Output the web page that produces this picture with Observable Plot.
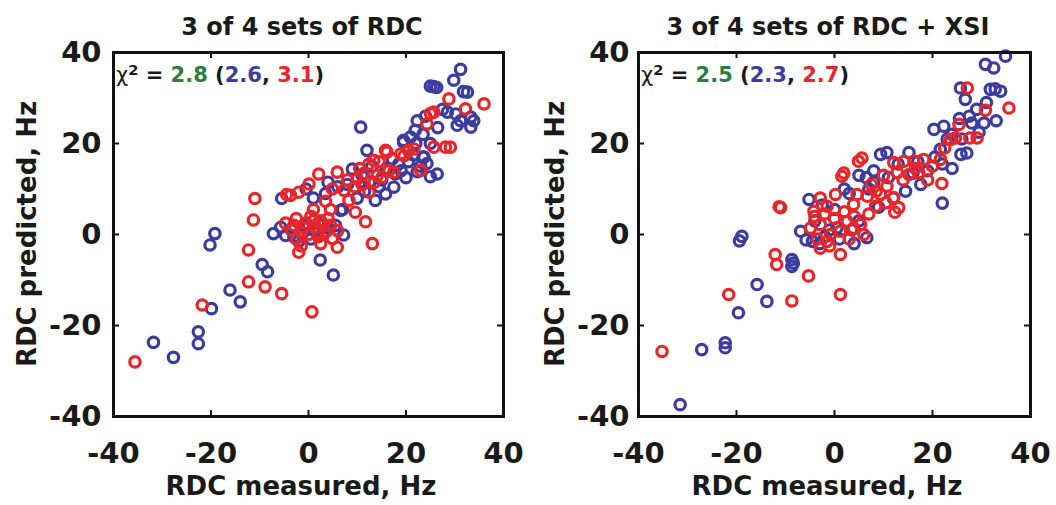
<!DOCTYPE html>
<html><head><meta charset="utf-8">
<script src="https://cdn.jsdelivr.net/npm/d3@7"></script>
<script src="https://cdn.jsdelivr.net/npm/@observablehq/plot@0.6"></script>
<style>
body{margin:0;background:#fff;}
#wrap{position:relative;width:1056px;height:505px;overflow:hidden;font-family:"DejaVu Sans",sans-serif;font-weight:bold;color:#1a1a1a;}
.p{position:absolute;top:0;}
.lbl{position:absolute;white-space:nowrap;line-height:1;}
.c{transform:translate(-50%,0);}
.rot{transform:translate(-50%,-50%) rotate(-90deg);}
sup{font-size:0.7em;vertical-align:0.45em;line-height:0;}
</style></head><body><div id="wrap"></div>
<script>
// ---- data ----
const axisTicks = [-40, -20, 0, 20, 40];
const innerTicks = [-20, 0, 20];
const titles = ["3 of 4 sets of RDC", "3 of 4 sets of RDC + XSI"];
const chiTotal = ["2.8", "2.5"];
const chiBlue = ["2.6", "2.3"];
const chiRed = ["3.1", "2.7"];
const xLabel = "RDC measured, Hz";
const yLabel = "RDC predicted, Hz";

const leftBlue = [
  [-31.8,-23.7],[-27.7,-27.0],[-22.6,-21.4],[-22.6,-24.0],[-19.9,-16.3],[-19.2,0.2],[-20.2,-2.3],
  [-16.1,-12.2],[-14.0,-14.8],[-9.5,-6.6],[-8.4,-8.2],[-7.2,0.2],[-5.5,7.9],[2.4,-5.6],[5.1,-8.9],
  [7.2,-0.1],[-5.7,1.6],[-4.7,-0.2],[-3.5,1.0],[6.6,5.3],[-1.0,2.0],[1.0,1.0],[2.0,2.5],
  [9.0,14.4],[12.0,18.5],[10.7,23.6],[17.2,16.6],[17.8,13.3],[17.5,10.4],[15.8,8.9],[13.7,7.5],
  [11.5,9.5],[10.0,8.0],[8.0,11.0],[4.0,11.5],[3.5,9.0],[6.0,10.5],[12.5,11.5],[14.5,10.5],
  [19.5,20.3],[20.5,16.0],[21.5,17.5],[22.3,13.8],[25.0,12.7],[23.5,17.0],[20.9,21.4],[21.9,22.9],
  [22.3,25.0],[23.5,22.0],[25.0,20.0],[26.5,23.5],[25.0,32.6],[25.7,32.5],[26.3,32.3],[29.8,33.9],
  [31.2,36.3],[31.8,31.4],[32.6,31.3],[28.5,26.9],[30.2,26.5],[33.3,25.8],[31.2,25.0],[33.9,25.0],
  [33.3,23.6],[30.5,24.0],[27.5,27.5],[24.0,26.0],[19.0,14.0],[16.0,14.5],[13.0,15.0],[11.0,13.0],
  [23.7,17.0],[26.4,13.3],[23.0,15.0],[20.0,12.5],[-2.0,-1.5],[0.5,-1.0],[3.0,0.5],[5.5,2.0],
  [-0.5,10.0],[1.0,8.0],[19.5,20.7],[24.3,15.6],[0.0,2.0],[4.0,1.5],[-3.0,-0.5],[7.0,5.5],
  [15.0,12.0],[18.5,15.5],[22.0,20.0]
];
const leftRed = [
  [-35.6,-28.0],[-21.8,-15.5],[-12.3,-10.4],[-8.9,-11.5],[-5.5,-13.0],[0.7,-17.0],[-12.3,-3.4],
  [-11.3,3.2],[-11.0,7.9],[-2.0,-3.9],[5.9,-2.8],[13.1,-2.0],[11.7,2.8],[-3.7,8.6],[-2.0,9.3],
  [-4.5,8.8],[0.1,11.1],[2.1,13.3],[5.9,13.7],[10.0,12.2],[12.4,15.5],[14.1,13.0],[15.1,12.6],
  [16.1,18.1],[18.9,17.7],[7.3,9.7],[8.3,7.5],[9.6,4.9],[3.5,7.3],[4.5,5.5],[-4.7,2.5],[-3.5,1.0],
  [-2.5,3.5],[-1.5,0.5],[-0.5,2.5],[0.5,4.0],[1.5,1.5],[2.5,3.0],[3.5,0.5],[4.5,2.0],[2.0,-0.5],
  [-2.5,-1.0],[4.9,-0.9],[1.0,5.5],[6.0,0.8],[12.4,9.3],[4.9,10.0],[11.3,13.4],[28.8,29.8],
  [36.0,28.7],[32.2,27.6],[25.7,26.9],[24.3,24.3],[28.1,19.2],[29.1,19.2],[25.7,19.2],[21.6,18.8],
  [15.8,18.5],[23.0,14.1],[13.4,16.3],[17.5,13.7],[19.6,17.3],[20.5,18.5],[25.0,26.6],[8.0,12.0],
  [9.5,10.5],[11.0,11.0],[13.5,11.5],[16.5,14.0],[14.5,16.0],[10.5,14.5],[-1.0,1.5],[0.0,0.0],
  [2.0,0.5],[3.0,2.0],[-3.0,2.0],[1.0,3.0],[4.0,3.5],[2.5,-2.0],[-1.5,-2.5]
];
const rightBlue = [
  [-31.5,-37.4],[-27.1,-25.3],[-22.3,-23.8],[-22.3,-24.9],[-19.6,-17.2],[-18.9,-0.4],[-19.4,-1.4],
  [-15.8,-11.0],[-13.8,-14.7],[-8.7,-5.5],[-8.4,-6.3],[-8.7,-7.0],[22.0,6.9],[6.6,-0.7],[-6.9,0.7],
  [-5.2,7.7],[-4.5,-1.5],[34.9,39.2],[30.8,37.4],[32.5,36.6],[31.8,31.9],[32.8,32.0],[33.9,31.5],
  [25.7,32.2],[26.7,29.7],[27.5,26.0],[25.5,25.5],[30.5,24.5],[33.0,25.0],[29.0,27.5],[20.3,23.1],
  [22.3,23.8],[27.0,17.9],[25.8,17.6],[21.6,18.7],[24.0,14.5],[9.4,17.6],[10.7,18.0],[15.2,18.0],
  [17.6,11.0],[14.5,9.5],[5.0,13.0],[6.5,12.5],[8.0,11.5],[7.0,10.0],[3.0,9.0],[12.0,8.0],
  [19.0,14.0],[22.0,15.5],[17.0,16.0],[-4.0,3.0],[-2.0,-0.5],[0.5,1.5],[3.5,1.0],[5.0,3.0],
  [-3.0,-2.0],[1.0,-1.0],[23.0,21.0],[26.0,21.0],[29.5,22.5],[9.0,6.0],[11.0,12.5],[-5.8,-1.2],
  [-2.5,6.5],[0.0,5.5],[2.0,10.0],[4.0,-2.0],[-1.0,1.0],[13.0,15.5],[16.0,13.5],[20.5,17.0],
  [8.0,14.0],[28.0,24.5],[24.0,22.0],[31.0,29.0]
];
const rightRed = [
  [-35.2,-25.7],[-21.6,-13.2],[-8.7,-14.6],[-5.3,-9.1],[1.2,-13.2],[-12.1,-4.4],[-11.8,-6.6],
  [1.2,-4.4],[-11.3,6.1],[-11.0,5.9],[27.1,32.2],[35.6,27.8],[30.8,27.3],[21.9,11.2],[12.3,4.9],
  [4.9,16.1],[1.5,12.8],[25.4,24.2],[24.7,21.2],[27.6,21.2],[29.1,21.2],[23.7,20.9],[21.6,16.5],
  [12.1,15.8],[14.2,16.1],[16.2,16.1],[18.2,16.5],[12.8,13.6],[15.2,13.2],[17.2,13.6],[5.6,16.8],
  [1.9,13.5],[10.7,10.6],[9.4,8.8],[12.1,8.1],[13.1,5.9],[-2.9,8.0],[0.2,8.8],[-1.5,6.2],
  [-4.2,5.1],[4.6,8.8],[6.7,8.4],[3.9,6.6],[8.4,6.2],[5.3,2.2],[2.6,2.9],[-4.9,1.4],[-2.9,2.2],
  [-0.8,0.0],[1.2,0.7],[3.9,1.4],[6.0,0.0],[-1.5,-1.5],[-2.9,-3.0],[20.0,15.0],[22.5,19.0],
  [7.5,11.0],[10.0,13.0],[-4.0,4.0],[-2.0,4.5],[0.0,3.5],[2.0,5.0],[3.0,-1.0],[-1.0,-2.5],
  [7.0,4.5],[8.5,9.5],[10.5,7.0],[14.0,12.0],[16.5,14.5],[19.0,12.0],[-3.5,-1.0],[4.0,4.0]
];

// ---- drawing ----
const W = 528, H = 505;
const blue = "#3c3ca0", red = "#e8262a", green = "#2b7d40";
const panels = [
  {left: 0, ml: 113, mr: 25, blue: leftBlue, red: leftRed},
  {left: 528, ml: 110, mr: 26, blue: rightBlue, red: rightRed}
];
const mt = 52, mb = 89;
const wrap = document.getElementById("wrap");

panels.forEach((p, i) => {
  const fw = W - p.ml - p.mr, fh = H - mt - mb;
  const toRows = arr => arr.map(([x, y]) => ({x, y}));
  const chart = Plot.plot({
    width: W, height: H,
    marginLeft: p.ml, marginRight: p.mr, marginTop: mt, marginBottom: mb,
    x: {domain: [-40, 40]},
    y: {domain: [-40, 40]},
    style: {fontFamily: "DejaVu Sans", fontWeight: "bold", fontSize: "29px", color: "#1a1a1a", background: "transparent", overflow: "visible"},
    marks: [
      Plot.dot(toRows(p.blue), {x: "x", y: "y", r: 5.2, stroke: blue, strokeWidth: 3.2, fill: "none"}),
      Plot.dot(toRows(p.red), {x: "x", y: "y", r: 5.2, stroke: red, strokeWidth: 3.2, fill: "none"}),
      Plot.tickX(innerTicks, {x: d => d, insetTop: fh - 6, stroke: "#111", strokeWidth: 2}),
      Plot.tickX(innerTicks, {x: d => d, insetBottom: fh - 6, stroke: "#111", strokeWidth: 2}),
      Plot.tickY(innerTicks, {y: d => d, insetLeft: fw - 6, stroke: "#111", strokeWidth: 2}),
      Plot.tickY(innerTicks, {y: d => d, insetRight: fw - 6, stroke: "#111", strokeWidth: 2}),
      Plot.frame({stroke: "#111", strokeWidth: 3}),
      Plot.axisX({ticks: axisTicks, tickSize: 0, tickPadding: 26, tickFormat: d => String(d), label: null, fontSize: 29}),
      Plot.axisY({ticks: axisTicks, tickSize: 0, tickPadding: i === 0 ? 12 : 9, tickFormat: d => String(d), label: null, fontSize: 29})
    ]
  });
  chart.classList.add("p");
  chart.style.left = p.left + "px";
  wrap.appendChild(chart);

  const cx = p.left + p.ml + fw / 2;
  const t = document.createElement("div");
  t.className = "lbl c";
  t.style.cssText += `left:${cx - 6}px;top:15px;font-size:24px;`;
  t.textContent = titles[i];
  wrap.appendChild(t);

  const xl = document.createElement("div");
  xl.className = "lbl c";
  xl.style.cssText += `left:${cx - 7}px;top:473px;font-size:26px;`;
  xl.textContent = xLabel;
  wrap.appendChild(xl);

  const yl = document.createElement("div");
  yl.className = "lbl rot";
  yl.style.cssText += `left:${p.left + 27}px;top:234px;font-size:26px;`;
  yl.textContent = yLabel;
  wrap.appendChild(yl);

  const chi = document.createElement("div");
  chi.className = "lbl";
  chi.style.cssText += `left:${p.left + p.ml + 3}px;top:65px;font-size:21px;`;
  chi.innerHTML = `<span style="font-weight:normal">χ</span><sup>2</sup> = <span style="color:${green}">${chiTotal[i]}</span> (<span style="color:${blue}">${chiBlue[i]}</span>, <span style="color:${red}">${chiRed[i]}</span>)`;
  wrap.appendChild(chi);
});
</script>
</body></html>
